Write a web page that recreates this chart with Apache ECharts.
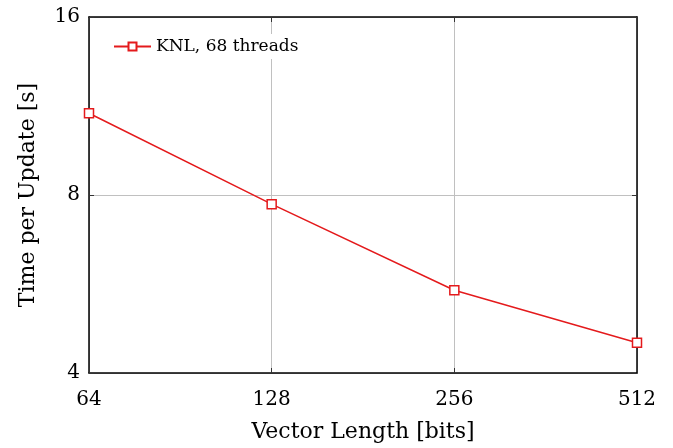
<!DOCTYPE html>
<html><head><meta charset="utf-8">
<script src="https://cdn.jsdelivr.net/npm/echarts@6/dist/echarts.min.js"></script>
<style>html,body{margin:0;padding:0;background:#fff}#c{width:673px;height:448px}</style>
</head><body><div id="c"></div>
<script>
const vectorLengths = [64, 128, 256, 512];
const timePerUpdate = [11.0, 7.72, 5.52, 4.5];
const seriesName = 'KNL, 68 threads';
const FONT = '"DejaVu Serif", "Liberation Serif", serif';
const RED = '#e41a1c';

const chart = echarts.init(document.getElementById('c'), null, {renderer: 'canvas'});
const axisBase = {
  axisLine: {show: true, lineStyle: {color: '#000', width: 1.5}},
  axisTick: {show: true, inside: true, length: 5, lineStyle: {color: '#333', width: 1}},
  splitLine: {show: false},
  minorTick: {show: false}
};
chart.setOption({
  animation: false,
  textStyle: {fontFamily: FONT},
  grid: {left: 89, right: 36, top: 17, bottom: 75, containLabel: false},
  legend: {
    data: [seriesName], left: 107, top: 34, itemWidth: 37, itemHeight: 10, itemGap: 6,
    backgroundColor: '#fff', padding: [4, 6],
    textStyle: {fontFamily: FONT, fontSize: 17, color: '#000'}
  },
  xAxis: [
    Object.assign({}, axisBase, {
      type: 'log', logBase: 2, min: 64, max: 512, position: 'bottom',
      name: 'Vector Length [bits]', nameLocation: 'middle', nameGap: 48,
      nameTextStyle: {fontFamily: FONT, fontSize: 22, color: '#000'},
      axisLabel: {fontFamily: FONT, fontSize: 20, color: '#000', margin: 17},
      splitLine: {show: true, lineStyle: {color: '#c0c0c0', width: 1}}
    }),
    Object.assign({}, axisBase, {
      type: 'log', logBase: 2, min: 64, max: 512, position: 'top',
      axisLabel: {show: false}
    })
  ],
  yAxis: [
    Object.assign({}, axisBase, {
      type: 'log', logBase: 2, min: 4, max: 16, position: 'left',
      name: 'Time per Update [s]', nameLocation: 'middle', nameGap: 50, nameRotate: 90,
      nameTextStyle: {fontFamily: FONT, fontSize: 22, color: '#000'},
      axisLabel: {fontFamily: FONT, fontSize: 20, color: '#000', margin: 9},
      splitLine: {show: true, lineStyle: {color: '#c0c0c0', width: 1}}
    }),
    Object.assign({}, axisBase, {
      type: 'log', logBase: 2, min: 4, max: 16, position: 'right',
      axisLabel: {show: false}
    })
  ],
  series: [{
    name: seriesName, type: 'line',
    data: vectorLengths.map((v, i) => [v, timePerUpdate[i]]),
    symbol: 'rect', symbolSize: 9, showAllSymbol: true,
    lineStyle: {color: RED, width: 1.5},
    itemStyle: {color: '#fff', borderColor: RED, borderWidth: 1.5},
    z: 5
  }]
});
</script></body></html>
